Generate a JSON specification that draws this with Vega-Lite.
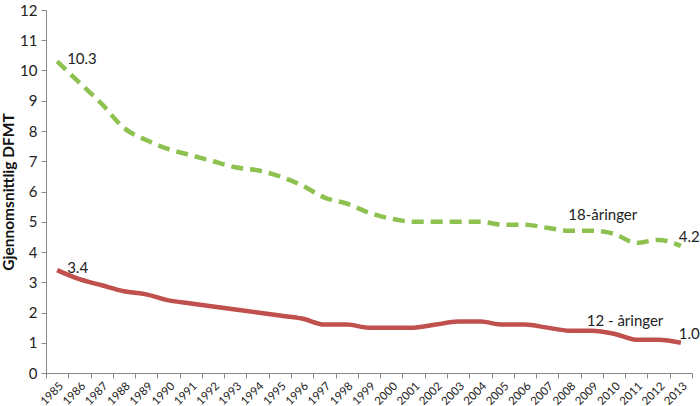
{
  "$schema": "https://vega.github.io/schema/vega-lite/v6.json",
  "width": 646,
  "height": 363,
  "autosize": "none",
  "padding": {"left": 46, "top": 10, "right": 8, "bottom": 33},
  "background": "white",
  "config": {"view": {"stroke": null}, "font": "Lato", "axis": {"labelOverlap": false}},
  "datasets": {
    "series": [
      {"year": "1985", "group": "18-åringer", "dfmt": 10.3},
      {"year": "1986", "group": "18-åringer", "dfmt": 9.6},
      {"year": "1987", "group": "18-åringer", "dfmt": 8.9},
      {"year": "1988", "group": "18-åringer", "dfmt": 8.1},
      {"year": "1989", "group": "18-åringer", "dfmt": 7.7},
      {"year": "1990", "group": "18-åringer", "dfmt": 7.4},
      {"year": "1991", "group": "18-åringer", "dfmt": 7.2},
      {"year": "1992", "group": "18-åringer", "dfmt": 7.0},
      {"year": "1993", "group": "18-åringer", "dfmt": 6.8},
      {"year": "1994", "group": "18-åringer", "dfmt": 6.7},
      {"year": "1995", "group": "18-åringer", "dfmt": 6.5},
      {"year": "1996", "group": "18-åringer", "dfmt": 6.2},
      {"year": "1997", "group": "18-åringer", "dfmt": 5.8},
      {"year": "1998", "group": "18-åringer", "dfmt": 5.6},
      {"year": "1999", "group": "18-åringer", "dfmt": 5.3},
      {"year": "2000", "group": "18-åringer", "dfmt": 5.1},
      {"year": "2001", "group": "18-åringer", "dfmt": 5.0},
      {"year": "2002", "group": "18-åringer", "dfmt": 5.0},
      {"year": "2003", "group": "18-åringer", "dfmt": 5.0},
      {"year": "2004", "group": "18-åringer", "dfmt": 5.0},
      {"year": "2005", "group": "18-åringer", "dfmt": 4.9},
      {"year": "2006", "group": "18-åringer", "dfmt": 4.9},
      {"year": "2007", "group": "18-åringer", "dfmt": 4.8},
      {"year": "2008", "group": "18-åringer", "dfmt": 4.7},
      {"year": "2009", "group": "18-åringer", "dfmt": 4.7},
      {"year": "2010", "group": "18-åringer", "dfmt": 4.6},
      {"year": "2011", "group": "18-åringer", "dfmt": 4.3},
      {"year": "2012", "group": "18-åringer", "dfmt": 4.4},
      {"year": "2013", "group": "18-åringer", "dfmt": 4.2},
      {"year": "1985", "group": "12-åringer", "dfmt": 3.4},
      {"year": "1986", "group": "12-åringer", "dfmt": 3.1},
      {"year": "1987", "group": "12-åringer", "dfmt": 2.9},
      {"year": "1988", "group": "12-åringer", "dfmt": 2.7},
      {"year": "1989", "group": "12-åringer", "dfmt": 2.6},
      {"year": "1990", "group": "12-åringer", "dfmt": 2.4},
      {"year": "1991", "group": "12-åringer", "dfmt": 2.3},
      {"year": "1992", "group": "12-åringer", "dfmt": 2.2},
      {"year": "1993", "group": "12-åringer", "dfmt": 2.1},
      {"year": "1994", "group": "12-åringer", "dfmt": 2.0},
      {"year": "1995", "group": "12-åringer", "dfmt": 1.9},
      {"year": "1996", "group": "12-åringer", "dfmt": 1.8},
      {"year": "1997", "group": "12-åringer", "dfmt": 1.6},
      {"year": "1998", "group": "12-åringer", "dfmt": 1.6},
      {"year": "1999", "group": "12-åringer", "dfmt": 1.5},
      {"year": "2000", "group": "12-åringer", "dfmt": 1.5},
      {"year": "2001", "group": "12-åringer", "dfmt": 1.5},
      {"year": "2002", "group": "12-åringer", "dfmt": 1.6},
      {"year": "2003", "group": "12-åringer", "dfmt": 1.7},
      {"year": "2004", "group": "12-åringer", "dfmt": 1.7},
      {"year": "2005", "group": "12-åringer", "dfmt": 1.6},
      {"year": "2006", "group": "12-åringer", "dfmt": 1.6},
      {"year": "2007", "group": "12-åringer", "dfmt": 1.5},
      {"year": "2008", "group": "12-åringer", "dfmt": 1.4},
      {"year": "2009", "group": "12-åringer", "dfmt": 1.4},
      {"year": "2010", "group": "12-åringer", "dfmt": 1.3},
      {"year": "2011", "group": "12-åringer", "dfmt": 1.1},
      {"year": "2012", "group": "12-åringer", "dfmt": 1.1},
      {"year": "2013", "group": "12-åringer", "dfmt": 1.0}
    ],
    "valueLabels": [
      {"year": "1985", "dfmt": 10.3, "label": "10.3"},
      {"year": "1985", "dfmt": 3.4, "label": "3.4"},
      {"year": "2013", "dfmt": 4.2, "label": "4.2"},
      {"year": "2013", "dfmt": 1.0, "label": "1.0"}
    ],
    "seriesLabels": [
      {"year": "2009", "dfmt": 5.22, "label": "18-åringer"},
      {"year": "2010", "dfmt": 1.72, "label": "12 - åringer"}
    ]
  },
  "encoding": {
    "x": {"field": "year", "type": "ordinal", "scale": {"type": "band", "paddingInner": 0, "paddingOuter": 0}, "bandPosition": 0.5,
      "axis": {"title": null, "labelAngle": -45, "labelFontSize": 11.5, "labelColor": "#222", "tickBand": "extent", "domainColor": "#888", "tickColor": "#888", "tickSize": 5, "labelPadding": 2}},
    "y": {"field": "dfmt", "type": "quantitative", "scale": {"domain": [0, 12]},
      "axis": {"title": "Gjennomsnittlig DFMT", "titleFontSize": 15.5, "titleFontWeight": "bold", "titleColor": "#111", "titlePadding": 3, "tickCount": 12, "labelFontSize": 15, "labelColor": "#222", "grid": false, "domainColor": "#888", "tickColor": "#888", "tickSize": 5, "labelPadding": 4}}
  },
  "layer": [
    {
      "data": {"name": "series"},
      "transform": [{"filter": "datum.group === '18-åringer'"}],
      "mark": {"type": "line", "interpolate": "monotone", "color": "#8DC150", "strokeWidth": 4.5, "strokeDash": [12, 7], "strokeCap": "butt"}
    },
    {
      "data": {"name": "series"},
      "transform": [{"filter": "datum.group === '12-åringer'"}],
      "mark": {"type": "line", "interpolate": "monotone", "color": "#C0504D", "strokeWidth": 4.5}
    },
    {
      "data": {"name": "valueLabels"},
      "mark": {"type": "text", "fontSize": 15, "color": "#222", "align": "left", "dx": 10, "dy": -2},
      "transform": [{"filter": "datum.year === '1985'"}],
      "encoding": {"text": {"field": "label"}}
    },
    {
      "data": {"name": "valueLabels"},
      "mark": {"type": "text", "fontSize": 15, "color": "#222", "align": "left", "dx": -2, "dy": -9},
      "transform": [{"filter": "datum.year === '2013'"}],
      "encoding": {"text": {"field": "label"}}
    },
    {
      "data": {"name": "seriesLabels"},
      "mark": {"type": "text", "fontSize": 15, "color": "#222", "align": "center", "dx": 11},
      "encoding": {"text": {"field": "label"}}
    }
  ]
}
